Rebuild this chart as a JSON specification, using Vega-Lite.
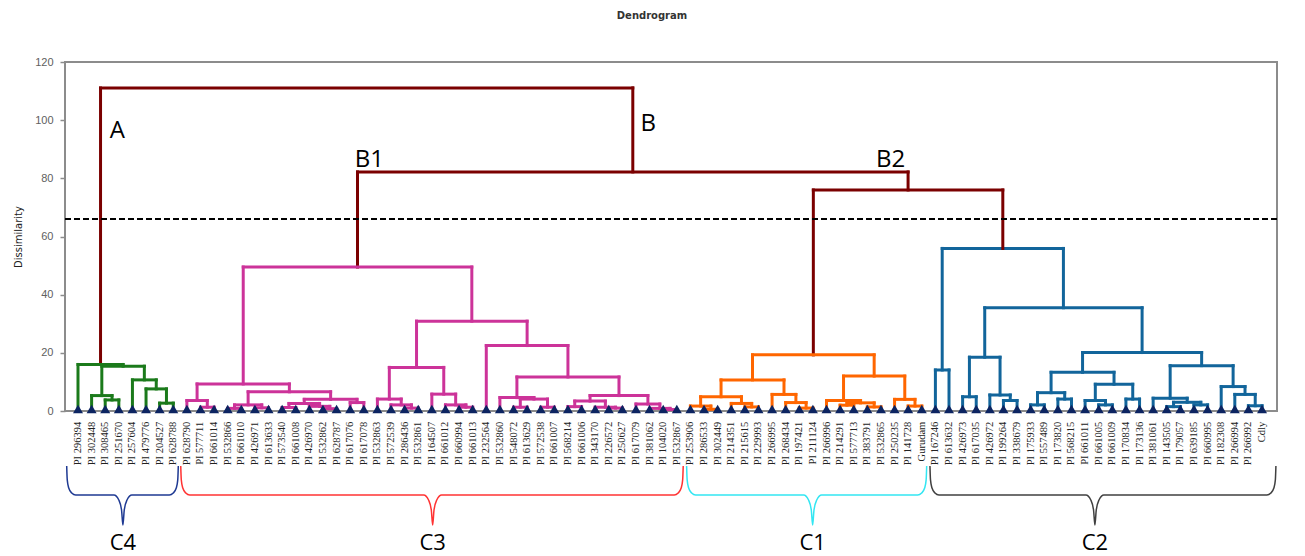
{
  "$schema": "https://vega.github.io/schema/vega-lite/v6.json",
  "width": 1212,
  "height": 349,
  "autosize": {"type": "none"},
  "padding": {"left": 65, "top": 62, "right": 28, "bottom": 145},
  "background": "white",
  "title": {"text": "Dendrogram", "font": "DejaVu Sans", "fontSize": 10, "fontWeight": "bold", "color": "#333333", "offset": 35, "dx": -19},
  "config": {
    "view": {"stroke": "#8c8c8c", "strokeWidth": 2},
    "axisY": {"grid": false, "domain": false, "tickColor": "#8c8c8c", "tickWidth": 1.5, "tickSize": 5,
      "labelFont": "Liberation Sans", "labelFontSize": 11, "labelColor": "#606060", "labelPadding": 7,
      "titleFont": "DejaVu Sans", "titleFontSize": 10, "titleFontWeight": "normal", "titleColor": "#222222"}
  },
  "datasets": {
    "merges": [
      {"c":"C4","xl":6,"hl":0,"xr":7,"hr":0,"h":2.7},
      {"c":"C4","xl":5,"hl":0,"xr":6.5,"hr":2.7,"h":7.6},
      {"c":"C4","xl":4,"hl":0,"xr":5.75,"hr":7.6,"h":10.7},
      {"c":"C4","xl":2,"hl":0,"xr":3,"hr":0,"h":3.8},
      {"c":"C4","xl":1,"hl":0,"xr":2.5,"hr":3.8,"h":5.3},
      {"c":"C4","xl":1.75,"hl":5.3,"xr":4.875,"hr":10.7,"h":15.4},
      {"c":"C4","xl":0,"hl":0,"xr":3.3125,"hr":15.4,"h":16.0},
      {"c":"C3","xl":9,"hl":0,"xr":10,"hr":0,"h":1.3},
      {"c":"C3","xl":8,"hl":0,"xr":9.5,"hr":1.3,"h":3.6},
      {"c":"C3","xl":11,"hl":0,"xr":12,"hr":0,"h":0.9},
      {"c":"C3","xl":13,"hl":0,"xr":14,"hr":0,"h":1.1},
      {"c":"C3","xl":11.5,"hl":0.9,"xr":13.5,"hr":1.1,"h":2.1},
      {"c":"C3","xl":15,"hl":0,"xr":16,"hr":0,"h":1.2},
      {"c":"C3","xl":18,"hl":0,"xr":19,"hr":0,"h":0.8},
      {"c":"C3","xl":17,"hl":0,"xr":18.5,"hr":0.8,"h":1.6},
      {"c":"C3","xl":15.5,"hl":1.2,"xr":17.75,"hr":1.6,"h":2.6},
      {"c":"C3","xl":20,"hl":0,"xr":21,"hr":0,"h":2.9},
      {"c":"C3","xl":16.625,"hl":2.6,"xr":20.5,"hr":2.9,"h":4.0},
      {"c":"C3","xl":12.5,"hl":2.1,"xr":18.5625,"hr":4.0,"h":6.6},
      {"c":"C3","xl":8.75,"hl":3.6,"xr":15.53125,"hr":6.6,"h":9.3},
      {"c":"C3","xl":24,"hl":0,"xr":25,"hr":0,"h":1.0},
      {"c":"C3","xl":23,"hl":0,"xr":24.5,"hr":1.0,"h":2.1},
      {"c":"C3","xl":22,"hl":0,"xr":23.75,"hr":2.1,"h":4.1},
      {"c":"C3","xl":28,"hl":0,"xr":29,"hr":0,"h":1.3},
      {"c":"C3","xl":27,"hl":0,"xr":28.5,"hr":1.3,"h":2.1},
      {"c":"C3","xl":26,"hl":0,"xr":27.75,"hr":2.1,"h":5.8},
      {"c":"C3","xl":22.875,"hl":4.1,"xr":26.875,"hr":5.8,"h":15.0},
      {"c":"C3","xl":32,"hl":0,"xr":33,"hr":0,"h":1.3},
      {"c":"C3","xl":34,"hl":0,"xr":35,"hr":0,"h":1.3},
      {"c":"C3","xl":32.5,"hl":1.3,"xr":34.5,"hr":1.3,"h":4.1},
      {"c":"C3","xl":31,"hl":0,"xr":33.5,"hr":4.1,"h":4.6},
      {"c":"C3","xl":36,"hl":0,"xr":37,"hr":0,"h":1.5},
      {"c":"C3","xl":39,"hl":0,"xr":40,"hr":0,"h":1.0},
      {"c":"C3","xl":38,"hl":0,"xr":39.5,"hr":1.0,"h":1.3},
      {"c":"C3","xl":36.5,"hl":1.5,"xr":38.75,"hr":1.3,"h":3.4},
      {"c":"C3","xl":43,"hl":0,"xr":44,"hr":0,"h":0.5},
      {"c":"C3","xl":42,"hl":0,"xr":43.5,"hr":0.5,"h":0.9},
      {"c":"C3","xl":41,"hl":0,"xr":42.75,"hr":0.9,"h":2.4},
      {"c":"C3","xl":37.625,"hl":3.4,"xr":41.875,"hr":2.4,"h":5.3},
      {"c":"C3","xl":32.25,"hl":4.6,"xr":39.75,"hr":5.3,"h":11.7},
      {"c":"C3","xl":30,"hl":0,"xr":36.0,"hr":11.7,"h":22.5},
      {"c":"C3","xl":24.875,"hl":15.0,"xr":33.0,"hr":22.5,"h":30.9},
      {"c":"C3","xl":12.140625,"hl":9.3,"xr":28.9375,"hr":30.9,"h":49.5},
      {"c":"C1","xl":46,"hl":0,"xr":47,"hr":0,"h":0.6},
      {"c":"C1","xl":45,"hl":0,"xr":46.5,"hr":0.6,"h":1.7},
      {"c":"C1","xl":49,"hl":0,"xr":50,"hr":0,"h":1.4},
      {"c":"C1","xl":48,"hl":0,"xr":49.5,"hr":1.4,"h":2.6},
      {"c":"C1","xl":45.75,"hl":1.7,"xr":48.75,"hr":2.6,"h":4.9},
      {"c":"C1","xl":53,"hl":0,"xr":54,"hr":0,"h":1.0},
      {"c":"C1","xl":52,"hl":0,"xr":53.5,"hr":1.0,"h":2.9},
      {"c":"C1","xl":51,"hl":0,"xr":52.75,"hr":2.9,"h":5.7},
      {"c":"C1","xl":47.25,"hl":4.9,"xr":51.875,"hr":5.7,"h":10.7},
      {"c":"C1","xl":56,"hl":0,"xr":57,"hr":0,"h":2.0},
      {"c":"C1","xl":58,"hl":0,"xr":59,"hr":0,"h":1.4},
      {"c":"C1","xl":56.5,"hl":2.0,"xr":58.5,"hr":1.4,"h":2.8},
      {"c":"C1","xl":55,"hl":0,"xr":57.5,"hr":2.8,"h":3.6},
      {"c":"C1","xl":61,"hl":0,"xr":62,"hr":0,"h":1.7},
      {"c":"C1","xl":60,"hl":0,"xr":61.5,"hr":1.7,"h":4.0},
      {"c":"C1","xl":56.25,"hl":3.6,"xr":60.75,"hr":4.0,"h":12.0},
      {"c":"C1","xl":49.5625,"hl":10.7,"xr":58.5,"hr":12.0,"h":19.3},
      {"c":"C2","xl":63,"hl":0,"xr":64,"hr":0,"h":14.1},
      {"c":"C2","xl":65,"hl":0,"xr":66,"hr":0,"h":4.9},
      {"c":"C2","xl":68,"hl":0,"xr":69,"hr":0,"h":3.6},
      {"c":"C2","xl":67,"hl":0,"xr":68.5,"hr":3.6,"h":5.5},
      {"c":"C2","xl":65.5,"hl":4.9,"xr":67.75,"hr":5.5,"h":18.5},
      {"c":"C2","xl":70,"hl":0,"xr":71,"hr":0,"h":2.1},
      {"c":"C2","xl":72,"hl":0,"xr":73,"hr":0,"h":4.1},
      {"c":"C2","xl":70.5,"hl":2.1,"xr":72.5,"hr":4.1,"h":6.3},
      {"c":"C2","xl":75,"hl":0,"xr":76,"hr":0,"h":2.1},
      {"c":"C2","xl":74,"hl":0,"xr":75.5,"hr":2.1,"h":3.6},
      {"c":"C2","xl":77,"hl":0,"xr":78,"hr":0,"h":4.1},
      {"c":"C2","xl":74.75,"hl":3.6,"xr":77.5,"hr":4.1,"h":9.2},
      {"c":"C2","xl":71.5,"hl":6.3,"xr":76.125,"hr":9.2,"h":13.3},
      {"c":"C2","xl":80,"hl":0,"xr":81,"hr":0,"h":1.5},
      {"c":"C2","xl":82,"hl":0,"xr":83,"hr":0,"h":2.1},
      {"c":"C2","xl":80.5,"hl":1.5,"xr":82.5,"hr":2.1,"h":3.0},
      {"c":"C2","xl":79,"hl":0,"xr":81.5,"hr":3.0,"h":4.4},
      {"c":"C2","xl":86,"hl":0,"xr":87,"hr":0,"h":1.8},
      {"c":"C2","xl":85,"hl":0,"xr":86.5,"hr":1.8,"h":5.7},
      {"c":"C2","xl":84,"hl":0,"xr":85.75,"hr":5.7,"h":8.4},
      {"c":"C2","xl":80.25,"hl":4.4,"xr":84.875,"hr":8.4,"h":15.6},
      {"c":"C2","xl":73.8125,"hl":13.3,"xr":82.5625,"hr":15.6,"h":20.1},
      {"c":"C2","xl":66.625,"hl":18.5,"xr":78.1875,"hr":20.1,"h":35.5},
      {"c":"C2","xl":63.5,"hl":14.1,"xr":72.40625,"hr":35.5,"h":55.9},
      {"c":"top","xl":54.03125,"hl":19.3,"xr":67.953125,"hr":55.9,"h":76.0},
      {"c":"top","xl":20.5390625,"hl":49.5,"xr":60.9921875,"hr":76.0,"h":82.2},
      {"c":"top","xl":1.65625,"hl":16.0,"xr":40.765625,"hr":82.2,"h":111.1}
    ],
    "leaves": [
      {"i":0,"name":"PI 296394"},{"i":1,"name":"PI 302448"},{"i":2,"name":"PI 308465"},{"i":3,"name":"PI 251670"},
      {"i":4,"name":"PI 257604"},{"i":5,"name":"PI 479776"},{"i":6,"name":"PI 204527"},{"i":7,"name":"PI 628788"},
      {"i":8,"name":"PI 628790"},{"i":9,"name":"PI 577711"},{"i":10,"name":"PI 661014"},{"i":11,"name":"PI 532866"},
      {"i":12,"name":"PI 661010"},{"i":13,"name":"PI 426971"},{"i":14,"name":"PI 613633"},{"i":15,"name":"PI 573540"},
      {"i":16,"name":"PI 661008"},{"i":17,"name":"PI 426970"},{"i":18,"name":"PI 532862"},{"i":19,"name":"PI 628787"},
      {"i":20,"name":"PI 617076"},{"i":21,"name":"PI 617078"},{"i":22,"name":"PI 532863"},{"i":23,"name":"PI 572539"},
      {"i":24,"name":"PI 286436"},{"i":25,"name":"PI 532861"},{"i":26,"name":"PI 164507"},{"i":27,"name":"PI 661012"},
      {"i":28,"name":"PI 660994"},{"i":29,"name":"PI 661013"},{"i":30,"name":"PI 232564"},{"i":31,"name":"PI 532860"},
      {"i":32,"name":"PI 548072"},{"i":33,"name":"PI 613629"},{"i":34,"name":"PI 572538"},{"i":35,"name":"PI 661007"},
      {"i":36,"name":"PI 568214"},{"i":37,"name":"PI 661006"},{"i":38,"name":"PI 343170"},{"i":39,"name":"PI 226572"},
      {"i":40,"name":"PI 250627"},{"i":41,"name":"PI 617079"},{"i":42,"name":"PI 381062"},{"i":43,"name":"PI 104020"},
      {"i":44,"name":"PI 532867"},{"i":45,"name":"PI 253906"},{"i":46,"name":"PI 286533"},{"i":47,"name":"PI 302449"},
      {"i":48,"name":"PI 214351"},{"i":49,"name":"PI 215615"},{"i":50,"name":"PI 229993"},{"i":51,"name":"PI 266995"},
      {"i":52,"name":"PI 268434"},{"i":53,"name":"PI 197421"},{"i":54,"name":"PI 211124"},{"i":55,"name":"PI 266996"},
      {"i":56,"name":"PI 214291"},{"i":57,"name":"PI 577713"},{"i":58,"name":"PI 383791"},{"i":59,"name":"PI 532865"},
      {"i":60,"name":"PI 250235"},{"i":61,"name":"PI 141728"},{"i":62,"name":"Gurudam"},{"i":63,"name":"PI 167246"},
      {"i":64,"name":"PI 613632"},{"i":65,"name":"PI 426973"},{"i":66,"name":"PI 617035"},{"i":67,"name":"PI 426972"},
      {"i":68,"name":"PI 199264"},{"i":69,"name":"PI 338679"},{"i":70,"name":"PI 175933"},{"i":71,"name":"PI 557489"},
      {"i":72,"name":"PI 173820"},{"i":73,"name":"PI 568215"},{"i":74,"name":"PI 661011"},{"i":75,"name":"PI 661005"},
      {"i":76,"name":"PI 661009"},{"i":77,"name":"PI 170834"},{"i":78,"name":"PI 173136"},{"i":79,"name":"PI 381061"},
      {"i":80,"name":"PI 143505"},{"i":81,"name":"PI 179057"},{"i":82,"name":"PI 639185"},{"i":83,"name":"PI 660995"},
      {"i":84,"name":"PI 182308"},{"i":85,"name":"PI 266994"},{"i":86,"name":"PI 266992"},{"i":87,"name":"Cdly"}
    ],
    "notes": [
      {"t":"A","x":2.9,"y":94.0},
      {"t":"B","x":41.9,"y":96.3},
      {"t":"B1","x":21.4,"y":84.0},
      {"t":"B2","x":59.7,"y":84.0}
    ],
    "braces": [
      {"b":"C4","o":1,"x":-0.83,"y":-18.9},{"b":"C4","o":2,"x":-0.79,"y":-23.7},{"b":"C4","o":3,"x":-0.68,"y":-26.5},
      {"b":"C4","o":4,"x":-0.46,"y":-28.2},{"b":"C4","o":5,"x":-0.17,"y":-28.9},{"b":"C4","o":6,"x":2.64,"y":-28.9},
      {"b":"C4","o":7,"x":3.0,"y":-30.6},{"b":"C4","o":8,"x":3.2,"y":-34.0},{"b":"C4","o":9,"x":3.3,"y":-39.2},
      {"b":"C4","o":10,"x":3.4,"y":-34.0},{"b":"C4","o":11,"x":3.6,"y":-30.6},{"b":"C4","o":12,"x":3.96,"y":-28.9},
      {"b":"C4","o":13,"x":6.71,"y":-28.9},{"b":"C4","o":14,"x":7.0,"y":-28.2},{"b":"C4","o":15,"x":7.22,"y":-26.5},
      {"b":"C4","o":16,"x":7.33,"y":-23.7},{"b":"C4","o":17,"x":7.37,"y":-18.9},
      {"b":"C3","o":1,"x":7.55,"y":-18.9},{"b":"C3","o":2,"x":7.59,"y":-23.7},{"b":"C3","o":3,"x":7.7,"y":-26.5},
      {"b":"C3","o":4,"x":7.92,"y":-28.2},{"b":"C3","o":5,"x":8.21,"y":-28.9},{"b":"C3","o":6,"x":25.4,"y":-28.9},
      {"b":"C3","o":7,"x":25.76,"y":-30.6},{"b":"C3","o":8,"x":25.96,"y":-34.0},{"b":"C3","o":9,"x":26.06,"y":-39.2},
      {"b":"C3","o":10,"x":26.16,"y":-34.0},{"b":"C3","o":11,"x":26.36,"y":-30.6},{"b":"C3","o":12,"x":26.72,"y":-28.9},
      {"b":"C3","o":13,"x":43.81,"y":-28.9},{"b":"C3","o":14,"x":44.1,"y":-28.2},{"b":"C3","o":15,"x":44.32,"y":-26.5},
      {"b":"C3","o":16,"x":44.43,"y":-23.7},{"b":"C3","o":17,"x":44.47,"y":-18.9},
      {"b":"C1","o":1,"x":44.72,"y":-18.9},{"b":"C1","o":2,"x":44.76,"y":-23.7},{"b":"C1","o":3,"x":44.87,"y":-26.5},
      {"b":"C1","o":4,"x":45.09,"y":-28.2},{"b":"C1","o":5,"x":45.38,"y":-28.9},{"b":"C1","o":6,"x":53.32,"y":-28.9},
      {"b":"C1","o":7,"x":53.68,"y":-30.6},{"b":"C1","o":8,"x":53.88,"y":-34.0},{"b":"C1","o":9,"x":53.98,"y":-39.2},
      {"b":"C1","o":10,"x":54.08,"y":-34.0},{"b":"C1","o":11,"x":54.28,"y":-30.6},{"b":"C1","o":12,"x":54.64,"y":-28.9},
      {"b":"C1","o":13,"x":61.7,"y":-28.9},{"b":"C1","o":14,"x":61.99,"y":-28.2},{"b":"C1","o":15,"x":62.21,"y":-26.5},
      {"b":"C1","o":16,"x":62.32,"y":-23.7},{"b":"C1","o":17,"x":62.36,"y":-18.9},
      {"b":"C2","o":1,"x":62.6,"y":-18.9},{"b":"C2","o":2,"x":62.64,"y":-23.7},{"b":"C2","o":3,"x":62.75,"y":-26.5},
      {"b":"C2","o":4,"x":62.97,"y":-28.2},{"b":"C2","o":5,"x":63.26,"y":-28.9},{"b":"C2","o":6,"x":74.06,"y":-28.9},
      {"b":"C2","o":7,"x":74.42,"y":-30.6},{"b":"C2","o":8,"x":74.62,"y":-34.0},{"b":"C2","o":9,"x":74.72,"y":-39.2},
      {"b":"C2","o":10,"x":74.82,"y":-34.0},{"b":"C2","o":11,"x":75.02,"y":-30.6},{"b":"C2","o":12,"x":75.38,"y":-28.9},
      {"b":"C2","o":13,"x":87.36,"y":-28.9},{"b":"C2","o":14,"x":87.65,"y":-28.2},{"b":"C2","o":15,"x":87.87,"y":-26.5},
      {"b":"C2","o":16,"x":87.98,"y":-23.7},{"b":"C2","o":17,"x":88.02,"y":-18.9}
    ],
    "groups": [
      {"g":"C4","x":3.3,"y":-45.5},
      {"g":"C3","x":26.06,"y":-45.5},
      {"g":"C1","x":53.98,"y":-45.5},
      {"g":"C2","x":74.72,"y":-45.5}
    ]
  },
  "layer": [
    {
      "data": {"name": "merges"},
      "mark": {"type": "rule", "strokeWidth": 3, "strokeCap": "square"},
      "encoding": {
        "x": {"field": "xl", "type": "quantitative", "scale": {"domain": [-0.955, 88.1], "nice": false, "zero": false}, "axis": null},
        "y": {"field": "hl", "type": "quantitative", "scale": {"domain": [0, 120], "nice": false, "zero": false},
          "axis": {"values": [0,20,40,60,80,100,120], "title": "Dissimilarity",
            "titleX": -47, "titleY": 174.5, "titleAngle": -90, "titleAlign": "center", "titleBaseline": "middle"}},
        "y2": {"field": "h"},
        "color": {"field": "c", "type": "nominal", "legend": null,
          "scale": {"domain": ["top","C4","C3","C1","C2"], "range": ["#7B0000","#1B7A1B","#CC3399","#FF6600","#12659B"]}}
      }
    },
    {
      "data": {"name": "merges"},
      "mark": {"type": "rule", "strokeWidth": 3, "strokeCap": "square"},
      "encoding": {
        "x": {"field": "xl", "type": "quantitative", "scale": {"domain": [-0.955, 88.1], "nice": false, "zero": false}, "axis": null},
        "x2": {"field": "xr"},
        "y": {"field": "h", "type": "quantitative", "scale": {"domain": [0, 120], "nice": false, "zero": false}},
        "color": {"field": "c", "type": "nominal", "legend": null,
          "scale": {"domain": ["top","C4","C3","C1","C2"], "range": ["#7B0000","#1B7A1B","#CC3399","#FF6600","#12659B"]}}
      }
    },
    {
      "data": {"name": "merges"},
      "mark": {"type": "rule", "strokeWidth": 3, "strokeCap": "square"},
      "encoding": {
        "x": {"field": "xr", "type": "quantitative", "scale": {"domain": [-0.955, 88.1], "nice": false, "zero": false}, "axis": null},
        "y": {"field": "hr", "type": "quantitative", "scale": {"domain": [0, 120], "nice": false, "zero": false}},
        "y2": {"field": "h"},
        "color": {"field": "c", "type": "nominal", "legend": null,
          "scale": {"domain": ["top","C4","C3","C1","C2"], "range": ["#7B0000","#1B7A1B","#CC3399","#FF6600","#12659B"]}}
      }
    },
    {
      "data": {"name": "leaves"},
      "mark": {"type": "point", "shape": "triangle-up", "filled": true, "size": 100, "opacity": 1, "color": "#0C2461", "yOffset": -2},
      "encoding": {
        "x": {"field": "i", "type": "quantitative", "scale": {"domain": [-0.955, 88.1], "nice": false, "zero": false}, "axis": null},
        "y": {"datum": 0, "type": "quantitative", "scale": {"domain": [0, 120], "nice": false, "zero": false}}
      }
    },
    {
      "data": {"name": "leaves"},
      "mark": {"type": "text", "angle": 270, "align": "right", "baseline": "middle", "font": "Liberation Serif", "fontSize": 10.5, "color": "#222222"},
      "encoding": {
        "x": {"field": "i", "type": "quantitative", "scale": {"domain": [-0.955, 88.1], "nice": false, "zero": false}, "axis": null},
        "y": {"datum": -3.7, "type": "quantitative", "scale": {"domain": [0, 120], "nice": false, "zero": false}},
        "text": {"field": "name"}
      }
    },
    {
      "data": {"values": [{"cut": 66}]},
      "mark": {"type": "rule", "strokeDash": [6, 3], "strokeWidth": 2, "color": "#000000"},
      "encoding": {
        "y": {"field": "cut", "type": "quantitative", "scale": {"domain": [0, 120], "nice": false, "zero": false}}
      }
    },
    {
      "data": {"name": "notes"},
      "mark": {"type": "text", "font": "Open Sans", "fontSize": 24, "color": "#000000", "align": "center", "baseline": "alphabetic"},
      "encoding": {
        "x": {"field": "x", "type": "quantitative", "scale": {"domain": [-0.955, 88.1], "nice": false, "zero": false}, "axis": null},
        "y": {"field": "y", "type": "quantitative", "scale": {"domain": [0, 120], "nice": false, "zero": false}},
        "text": {"field": "t"}
      }
    },
    {
      "data": {"name": "braces"},
      "mark": {"type": "line", "interpolate": "monotone", "strokeWidth": 1.5},
      "encoding": {
        "x": {"field": "x", "type": "quantitative", "scale": {"domain": [-0.955, 88.1], "nice": false, "zero": false}, "axis": null},
        "y": {"field": "y", "type": "quantitative", "scale": {"domain": [0, 120], "nice": false, "zero": false}},
        "order": {"field": "o"},
        "color": {"field": "b", "type": "nominal", "legend": null,
          "scale": {"domain": ["C4","C3","C1","C2"], "range": ["#1F3A93","#FF3333","#33E6F2","#404040"]}}
      }
    },
    {
      "data": {"name": "groups"},
      "mark": {"type": "text", "font": "Open Sans", "fontSize": 22, "color": "#000000", "align": "center", "baseline": "middle"},
      "encoding": {
        "x": {"field": "x", "type": "quantitative", "scale": {"domain": [-0.955, 88.1], "nice": false, "zero": false}, "axis": null},
        "y": {"field": "y", "type": "quantitative", "scale": {"domain": [0, 120], "nice": false, "zero": false}},
        "text": {"field": "g"}
      }
    }
  ],
  "resolve": {"scale": {"color": "independent"}}
}
